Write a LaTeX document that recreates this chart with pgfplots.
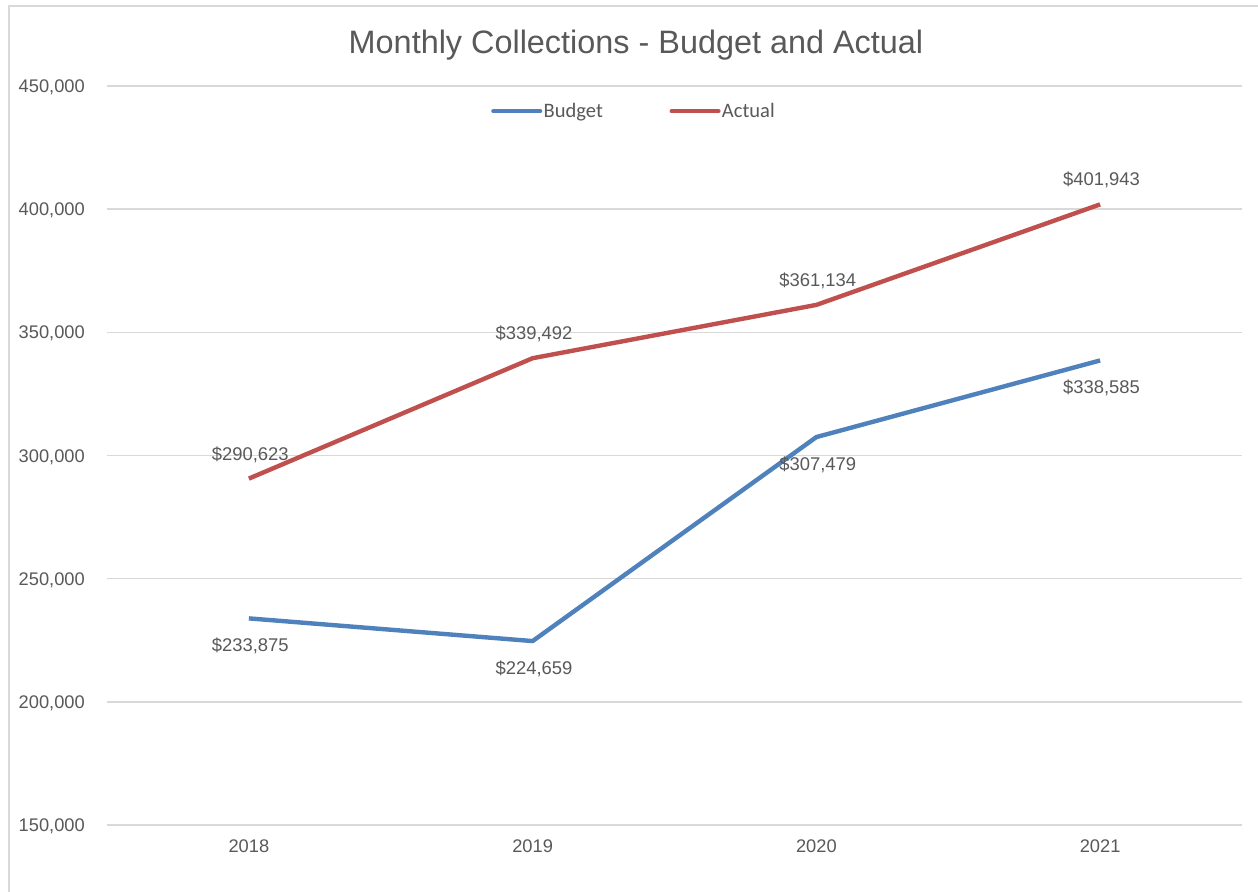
\documentclass[border=0pt]{standalone}
\usepackage{pgfplots}
\pgfplotsset{compat=1.18}
\usepackage{fontspec}
\setmainfont{Liberation Sans}
\newfontfamily\legfont{Carlito}
\definecolor{textgray}{HTML}{595959}
\definecolor{gridgray}{HTML}{D9D9D9}
\definecolor{budgetblue}{HTML}{4F81BD}
\definecolor{actualred}{HTML}{C0504D}
\begin{document}
\begin{tikzpicture}[x=0.75pt,y=0.75pt]
\useasboundingbox (0,0) rectangle (1258,892);
\fill[white] (0,0) rectangle (1258,892);
\draw[gridgray, line width=1.1pt] (9,-5) -- (9,886) -- (1265,886);
\node[anchor=base, text=textgray, font=\fontsize{24.3}{28}\selectfont] at (636,838) {Monthly Collections - Budget and Actual};
\begin{axis}[
  at={(80.25pt,50.25pt)}, anchor=south west,
  scale only axis, width=851.25pt, height=554.25pt,
  xmin=-0.5, xmax=3.5, ymin=150000, ymax=450000,
  xtick={0,1,2,3}, xticklabels={2018,2019,2020,2021},
  ytick={150000,200000,250000,300000,350000,400000,450000},
  scaled y ticks=false,
  axis line style={draw=none},
  major tick length=0pt,
  ymajorgrids, grid style={gridgray, line width=1.1pt},
  /pgf/number format/.cd, fixed, precision=0, 1000 sep={,}, assume math mode=true, /pgfplots/.cd,
  tick label style={text=textgray, font=\fontsize{13.7}{16}\selectfont, inner sep=0pt},
  yticklabel style={anchor=base east, xshift=-16.5pt, yshift=-4.9pt},
  xticklabel style={anchor=base, yshift=-20.3pt},
  clip=false,
  legend columns=2,
  legend style={at={(0.464,0.966)}, anchor=center, draw=none, fill=none, inner sep=0pt,
    nodes={inner sep=1pt, text=textgray, font=\legfont\fontsize{15.4}{18}\selectfont},
    /tikz/every even column/.append style={column sep=49pt}},
  legend image code/.code={\draw[#1, line cap=round] (0pt,0pt) -- (35pt,0pt);},
  every node near coord/.append style={text=textgray, font=\fontsize{13.8}{16}\selectfont, inner sep=0pt, xshift=1pt},
  nodes near coords={\$\pgfmathprintnumber{\pgfplotspointmeta}},
]
\addplot[budgetblue, line width=3.3pt, line join=round, mark=none,
  every node near coord/.append style={anchor=base, yshift=-25.1pt}]
  coordinates {(0,233875) (1,224659) (2,307479) (3,338585)};
\addlegendentry{Budget}
\addplot[actualred, line width=3.3pt, line join=round, mark=none,
  every node near coord/.append style={anchor=base, yshift=13.9pt}]
  coordinates {(0,290623) (1,339492) (2,361134) (3,401943)};
\addlegendentry{Actual}
\end{axis}
\end{tikzpicture}
\end{document}
